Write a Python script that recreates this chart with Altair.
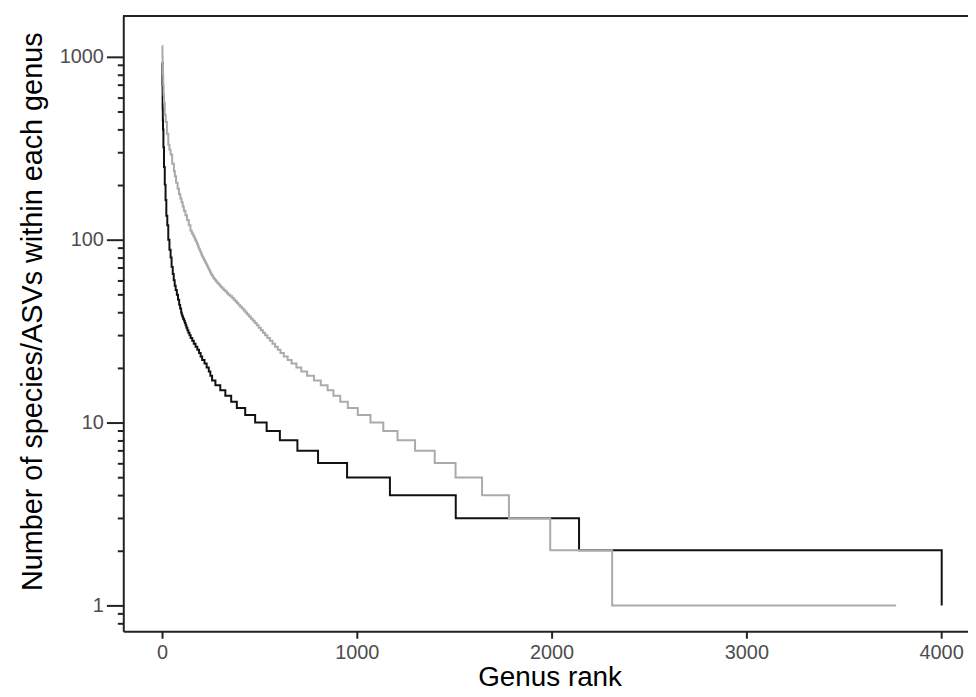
import altair as alt
import pandas as pd

# Black series (rank, number of species per genus), step-after
black_rank = [1, 2, 3, 4, 5, 7, 10, 14, 18, 22, 27, 32, 38, 44, 49, 55, 60, 65, 70, 76, 82, 88, 93,
              98, 101, 104, 108, 113, 117, 121, 125, 130, 135, 141, 147, 155, 163, 172, 181, 190, 198, 206, 218, 229, 240, 248,
              257, 274, 299, 325, 355, 384, 427, 478, 537, 605, 695, 801, 950, 1170, 1508, 2141, 4003]
black_value = [930, 700, 520, 450, 400, 320, 250, 200, 165, 135, 120, 100, 88, 80, 71, 65, 60, 56, 53, 50, 47, 44, 42,
               40, 39, 38, 37, 36, 35, 34, 33, 32, 31, 30, 29, 28, 27, 26, 25, 24, 23, 22, 21, 20, 19, 18,
               17, 16, 15, 14, 13, 12, 11, 10, 9, 8, 7, 6, 5, 4, 3, 2, 1]

# Gray series
gray_rank = [1, 2, 3, 4, 6, 8, 10, 14, 19, 25, 32, 38, 44, 52, 61, 66, 72, 80, 87, 94, 100, 106, 112, 120, 128, 137, 146,
             153, 160, 166, 170,
             173, 175, 177, 179, 180, 182, 184, 186, 187, 189, 191, 193, 195, 197, 199, 201, 203, 205, 207, 210,
             213, 215, 218, 221, 223, 226, 229, 232, 234, 237, 240, 243, 246, 249, 252, 255, 259, 263, 268, 273,
             278, 284, 290, 296, 303, 310, 317, 325, 333, 341, 350,
             360, 368, 376, 384, 392, 401, 410, 419, 428, 437, 446, 456, 466, 476, 486, 496, 507, 518, 529, 541, 554, 567, 580,
             594, 608, 625, 645, 665, 690, 715, 745, 780, 815, 850, 880, 915, 954, 1005, 1070, 1136, 1209, 1299, 1400, 1507,
             1643, 1781, 1993, 2311, 3769]
gray_value = [1150, 1000, 900, 800, 700, 620, 560, 480, 440, 380, 330, 310, 292, 260, 237, 222, 205, 190, 177, 168, 160, 152, 144, 136, 128, 120, 112,
              108, 105, 102, 100,
              99, 98, 97, 96, 95, 94, 93, 92, 91, 90, 89, 88, 87, 86, 85, 84, 83, 82, 81, 80,
              79, 78, 77, 76, 75, 74, 73, 72, 71, 70, 69, 68, 67, 66, 65, 64, 63, 62, 61, 60,
              59, 58, 57, 56, 55, 54, 53, 52, 51, 50, 49,
              48, 47, 46, 45, 44, 43, 42, 41, 40, 39, 38, 37, 36, 35, 34, 33, 32, 31, 30, 29, 28, 27, 26,
              25, 24, 23, 22, 21, 20, 19, 18, 17, 16, 15, 14, 13, 12, 11, 10, 9, 8, 7, 6, 5,
              4, 3, 2, 1, 1]

x_ticks = [0, 1000, 2000, 3000, 4000]
y_major = [1, 10, 100, 1000]
y_minor = [0.8, 0.9, 2, 3, 4, 5, 6, 7, 8, 9, 20, 30, 40, 50, 60, 70, 80, 90,
           200, 300, 400, 500, 600, 700, 800, 900]

df_black = pd.DataFrame({"rank": black_rank, "n": black_value})
df_gray = pd.DataFrame({"rank": gray_rank, "n": gray_value})

FONT = "Liberation Sans"
xscale = alt.Scale(domain=[-199, 4138], nice=False, zero=False)
yscale = alt.Scale(type="log", domain=[0.722, 1670], nice=False, zero=False)

major_test = "datum.value == 1 || datum.value == 10 || datum.value == 100 || datum.value == 1000"

x_axis = alt.Axis(values=x_ticks, format="d", title="Genus rank", grid=False, tickSize=7, tickWidth=2, tickColor="#222",
                  domainColor="#222", domainWidth=2, labelFontSize=20, labelColor="#4D4D4D", labelPadding=4,
                  titleFontSize=28, titleFontWeight="normal", titleColor="#000", titlePadding=2, titleX=429,
                  labelFont=FONT, titleFont=FONT)
y_axis = alt.Axis(values=y_major + y_minor, format="d", title="Number of species/ASVs within each genus", grid=False,
                  tickSize={"condition": {"test": major_test, "value": 17}, "value": 6},
                  tickWidth=2, tickColor="#222", domainColor="#222", domainWidth=2,
                  labelExpr="(" + major_test + ") ? datum.label : ''",
                  labelFontSize=20, labelColor="#4D4D4D", labelPadding=3,
                  titleFontSize=29, titleFontWeight="normal", titleColor="#000", titlePadding=12, titleY=297,
                  labelFont=FONT, titleFont=FONT)

black = alt.Chart(df_black).mark_line(interpolate="step-after", color="#111111", strokeWidth=2).encode(
    x=alt.X("rank:Q", scale=xscale, axis=x_axis),
    y=alt.Y("n:Q", scale=yscale, axis=y_axis),
)
gray = alt.Chart(df_gray).mark_line(interpolate="step-after", color="#AAAAAA", strokeWidth=2).encode(
    x=alt.X("rank:Q", scale=xscale),
    y=alt.Y("n:Q", scale=yscale),
)
top_frame = alt.Chart(df_black).mark_rule(color="#222", strokeWidth=2).encode(
    x=alt.value(0), x2=alt.value(850), y=alt.value(0)
)

chart = alt.layer(black, gray, top_frame).properties(
    width=850, height=619,
    autosize=alt.AutoSizeParams(type="none"),
    padding={"left": 116, "top": 6, "right": 0, "bottom": 62},
).configure_view(strokeWidth=0).configure_axis(labelFont=FONT, titleFont=FONT)

chart.save("out.html", embed_options={"renderer": "svg", "actions": False})
